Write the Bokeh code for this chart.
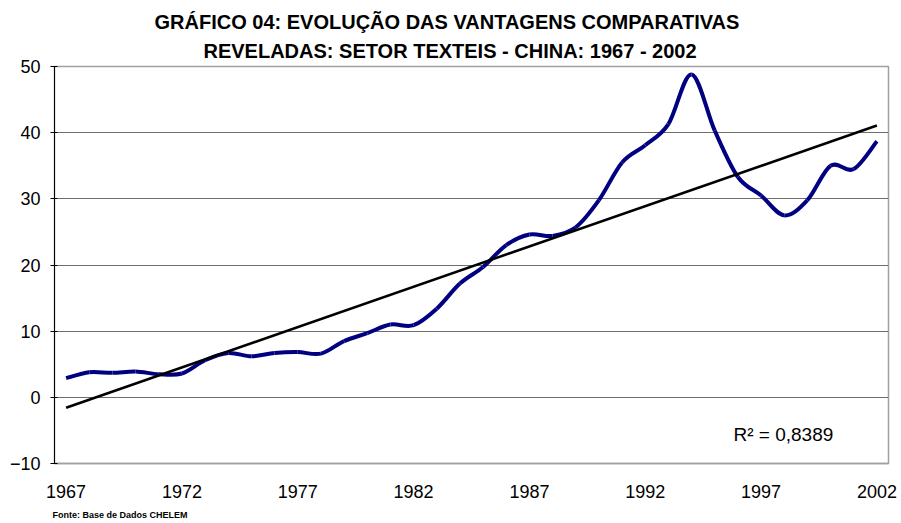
import numpy as np
from bokeh.plotting import figure
from bokeh.models import Range1d, FixedTicker, Label, Title
from bokeh.embed import file_html
from bokeh.resources import INLINE

# ---- data ----
years = list(range(1967, 2003))
rca = [2.9, 3.8, 3.7, 3.9, 3.5, 3.6, 5.6, 6.7, 6.2, 6.7,
       6.85, 6.6, 8.5, 9.7, 11.0, 10.9, 13.4, 17.2, 19.7, 23.0,
       24.6, 24.4, 25.7, 29.8, 35.5, 38.1, 41.3, 48.8, 40.3, 33.3,
       30.5, 27.5, 29.8, 35.0, 34.5, 38.7]
x_tick_years = [1967, 1972, 1977, 1982, 1987, 1992, 1997, 2002]
y_ticks = [-10, 0, 10, 20, 30, 40, 50]
title_lines = ["GRÁFICO 04: EVOLUÇÃO DAS VANTAGENS COMPARATIVAS",
               "REVELADAS: SETOR TEXTEIS - CHINA: 1967 - 2002"]
r2_text = "R\u00b2 = 0,8389"
source_text = "Fonte: Base de Dados CHELEM"

FONT = "Liberation Sans"

p = figure(frame_width=834, frame_height=397,
           x_range=Range1d(1966.5, 2002.5), y_range=Range1d(-10, 50),
           output_backend="svg", toolbar_location=None,
           min_border_left=54, min_border_top=66,
           min_border_right=11, min_border_bottom=58)
p.title = None
p.background_fill_color = "white"
p.border_fill_color = "white"
p.outline_line_color = "#a0a0a0"
p.outline_line_width = 1.5

# axes
p.xaxis.ticker = FixedTicker(ticks=x_tick_years)
p.yaxis.ticker = FixedTicker(ticks=y_ticks)
for ax in (p.xaxis, p.yaxis):
    ax.major_label_text_font = FONT
    ax.major_label_text_font_size = "18px"
    ax.major_label_text_color = "black"
    ax.minor_tick_line_color = None
p.xaxis.major_tick_line_color = None
p.xaxis.axis_line_color = "#a0a0a0"
p.xaxis.axis_line_width = 1.5
p.xaxis.major_label_standoff = 15
p.yaxis.axis_line_color = "black"
p.yaxis.major_tick_line_color = "black"
p.yaxis.major_tick_out = 4
p.yaxis.major_tick_in = 3
p.yaxis.major_label_standoff = 10

p.xgrid.grid_line_color = None
p.ygrid.grid_line_color = "#6e6e6e"
p.ygrid.grid_line_width = 1

# smoothed series (Excel-like Catmull-Rom bezier)
xs = np.array(years, dtype=float)
ys = np.array(rca, dtype=float)
n = len(xs)
x0, y0, x1, y1, cx0, cy0, cx1, cy1 = [], [], [], [], [], [], [], []
for i in range(n - 1):
    im1 = max(i - 1, 0)
    ip2 = min(i + 2, n - 1)
    x0.append(xs[i]); y0.append(ys[i])
    x1.append(xs[i + 1]); y1.append(ys[i + 1])
    cx0.append(xs[i] + (xs[i + 1] - xs[im1]) / 6.0)
    cy0.append(ys[i] + (ys[i + 1] - ys[im1]) / 6.0)
    cx1.append(xs[i + 1] - (xs[ip2] - xs[i]) / 6.0)
    cy1.append(ys[i + 1] - (ys[ip2] - ys[i]) / 6.0)
p.bezier(x0=x0, y0=y0, x1=x1, y1=y1, cx0=cx0, cy0=cy0, cx1=cx1, cy1=cy1,
         line_color="#000080", line_width=4)

# linear trend
slope, intercept = np.polyfit(xs, ys, 1)
tx = [years[0], years[-1]]
p.line(tx, [slope * t + intercept for t in tx], line_color="black", line_width=2.6)

# titles (second line added first: it sits nearest the plot)
p.add_layout(Title(text=title_lines[1], align="left", offset=149, standoff=10,
                   text_font=FONT, text_font_style="bold", text_font_size="20px",
                   text_color="black"), "above")
p.add_layout(Title(text=title_lines[0], align="left", offset=100, standoff=0,
                   text_font=FONT, text_font_style="bold", text_font_size="20px",
                   text_color="black"), "above")
p.add_layout(Title(text=source_text, align="left", offset=-2, standoff=14,
                   text_font=FONT, text_font_style="bold", text_font_size="9px",
                   text_color="black"), "below")

p.add_layout(Label(x=679, y=29, x_units="screen", y_units="screen",
                   text=r2_text, text_align="left", text_baseline="middle",
                   text_font=FONT, text_font_size="19px", text_color="black"))

open("out.html", "w").write(file_html(p, INLINE))
